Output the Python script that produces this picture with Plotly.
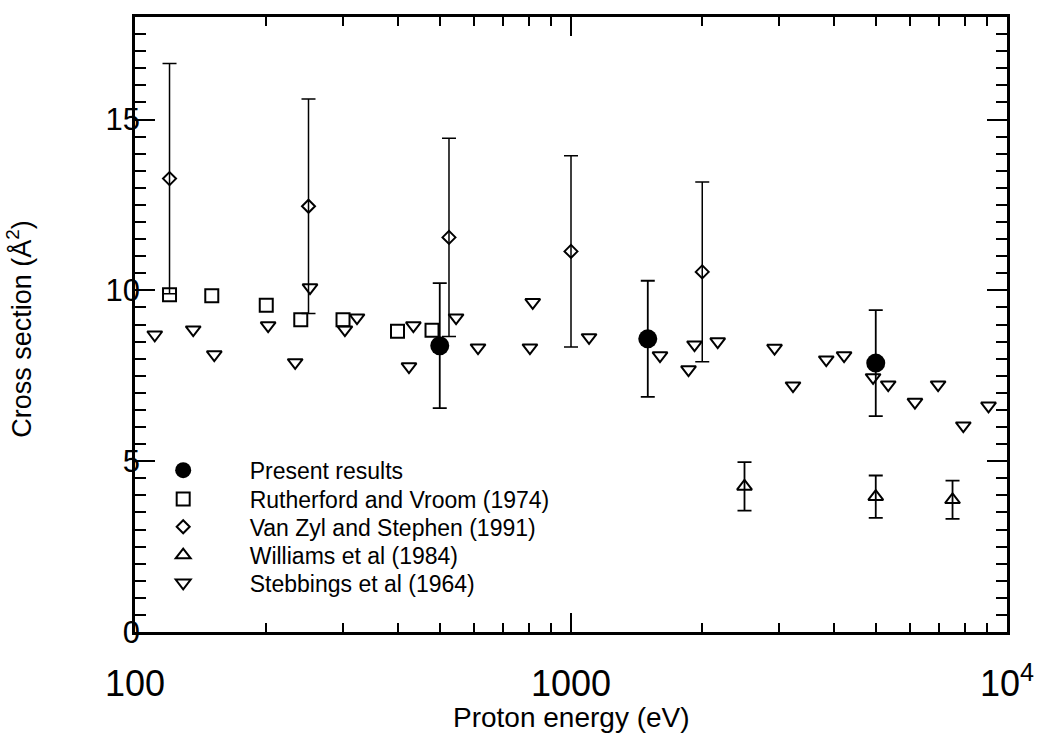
import plotly.graph_objects as go

# Present results
pres_x = [500, 1500, 5000]
pres_y = [8.38, 8.58, 7.87]
pres_err = [1.83, 1.70, 1.55]

# Rutherford and Vroom (1974)
ruth_x = [120, 150, 200, 240, 300, 400, 480]
ruth_y = [9.87, 9.84, 9.56, 9.14, 9.14, 8.80, 8.83]

# Van Zyl and Stephen (1991)
vz_x = [120, 250, 525, 1000, 2000]
vz_y = [13.27, 12.46, 11.55, 11.14, 10.54]
vz_err = [3.37, 3.14, 2.90, 2.80, 2.63]

# Williams et al (1984)
wil_x = [2500, 5000, 7500]
wil_y = [4.26, 3.96, 3.87]
wil_err = [0.71, 0.62, 0.56]

# Stebbings et al (1964)
steb_x = [111, 136, 152, 202, 233, 252, 303, 323, 425, 435, 545, 612, 805, 817,
          1100, 1600, 1860, 1920, 2170, 2930, 3230, 3850, 4230, 4930, 5340,
          6150, 6950, 7940, 9070]
steb_y = [8.70, 8.85, 8.12, 8.97, 7.89, 10.08, 8.85, 9.20, 7.77, 8.97, 9.20, 8.32,
          8.32, 9.65, 8.62, 8.09, 7.68, 8.41, 8.50, 8.31, 7.21, 7.97, 8.09, 7.45,
          7.24, 6.73, 7.24, 6.04, 6.62]

x_tickvals = [100, 1000, 10000]
x_ticktext = ["100", "1000", "10<sup>4</sup>"]
x_minor = [200, 300, 400, 500, 600, 700, 800, 900,
           2000, 3000, 4000, 5000, 6000, 7000, 8000, 9000]
y_tickvals = [0, 5, 10, 15]

x_title = "Proton energy (eV)"
y_title = "Cross section (Å<sup>2</sup>)"

FONT = "Liberation Sans, Arial, sans-serif"
LEG_X = -0.021
LEG_Y = [0.263, 0.216, 0.171, 0.125, 0.080]

fig = go.Figure()

fig.add_trace(go.Scatter(
    x=pres_x, y=pres_y, mode="markers", name="Present results", legend="legend",
    marker=dict(symbol="circle", size=19, color="black"),
    error_y=dict(type="data", array=pres_err, color="black", thickness=1.8, width=7),
))
fig.add_trace(go.Scatter(
    x=ruth_x, y=ruth_y, mode="markers", name="Rutherford and Vroom (1974)", legend="legend2",
    marker=dict(symbol="square-open", size=13, color="black", line=dict(width=2, color="black")),
))
fig.add_trace(go.Scatter(
    x=vz_x, y=vz_y, mode="markers", name="Van Zyl and Stephen (1991)", legend="legend3",
    marker=dict(symbol="diamond-open", size=10, color="black", line=dict(width=2, color="black")),
    error_y=dict(type="data", array=vz_err, color="black", thickness=1.5, width=7),
))
fig.add_trace(go.Scatter(
    x=wil_x, y=wil_y, mode="markers", name="Williams et al (1984)", legend="legend4",
    marker=dict(symbol="triangle-up-open", size=13, color="black", line=dict(width=2, color="black")),
    error_y=dict(type="data", array=wil_err, color="black", thickness=1.8, width=7),
))
fig.add_trace(go.Scatter(
    x=steb_x, y=steb_y, mode="markers", name="Stebbings et al (1964)", legend="legend5",
    marker=dict(symbol="triangle-down-open", size=13, color="black", line=dict(width=2, color="black")),
))

def leg(yv):
    return dict(
        x=LEG_X, y=yv, xanchor="left", yanchor="middle",
        font=dict(size=23, family=FONT, color="black"),
        bgcolor="rgba(0,0,0,0)", borderwidth=0, itemwidth=123,
    )

fig.update_layout(
    width=1041, height=737,
    margin=dict(l=135, r=34, t=17, b=105),
    paper_bgcolor="white", plot_bgcolor="white",
    font=dict(family=FONT, color="black"),
    showlegend=True,
    legend=leg(LEG_Y[0]), legend2=leg(LEG_Y[1]), legend3=leg(LEG_Y[2]),
    legend4=leg(LEG_Y[3]), legend5=leg(LEG_Y[4]),
    xaxis=dict(
        type="log", range=[2, 4], automargin=False,
        tickmode="array", tickvals=x_tickvals, ticktext=x_ticktext,
        ticks="inside", ticklen=19, tickwidth=2, tickcolor="black",
        showline=True, linewidth=2.5, linecolor="black", mirror="allticks",
        showgrid=False, zeroline=False, ticklabeloverflow="allow",
        tickfont=dict(size=36, family=FONT), ticklabelstandoff=18,
        minor=dict(tickmode="array", tickvals=x_minor, ticks="inside",
                   ticklen=9, tickwidth=2, tickcolor="black", showgrid=False),
    ),
    yaxis=dict(
        range=[0, 18], automargin=False,
        tickmode="array", tickvals=y_tickvals,
        ticks="inside", ticklen=20, tickwidth=2, tickcolor="black",
        showline=True, linewidth=2.5, linecolor="black", mirror="allticks",
        showgrid=False, zeroline=False, ticklabeloverflow="allow",
        tickfont=dict(size=31, family=FONT), ticklabelstandoff=-14,
        minor=dict(dtick=0.5, ticks="inside", ticklen=11, tickwidth=2,
                   tickcolor="black", showgrid=False),
    ),
    annotations=[
        dict(text=x_title, xref="paper", yref="paper", x=0.5, y=-0.139,
             xanchor="center", yanchor="middle", showarrow=False,
             font=dict(size=28, family=FONT, color="black")),
        dict(text=y_title, xref="paper", yref="paper", x=-0.133, y=0.493,
             xanchor="center", yanchor="middle", showarrow=False, textangle=-90,
             font=dict(size=27, family=FONT, color="black")),
    ],
)

fig.write_html("out.html", config={"displayModeBar": False},
               post_script="document.body.style.margin='0';")
